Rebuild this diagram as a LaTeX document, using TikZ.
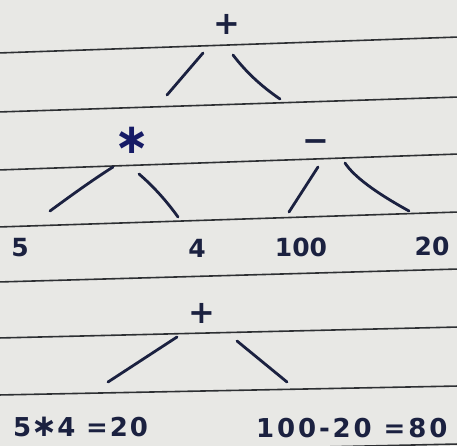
\documentclass[tikz,border=0pt]{standalone}
\usepackage{fontspec}
\setmainfont{DejaVu Sans}
\definecolor{paper}{HTML}{E8E8E5}
\definecolor{ink}{HTML}{1B2140}
\definecolor{rule}{HTML}{2E3033}
\begin{document}
\begin{tikzpicture}[x=1pt,y=-1pt,
  ruling/.style={draw=rule,line width=1.6pt},
  stroke/.style={draw=ink,line width=2.8pt,line cap=round},
  opnode/.style={text=ink,inner sep=0pt,font=\bfseries\fontsize{32}{32}\selectfont},
  leafnode/.style={text=ink,inner sep=0pt,font=\bfseries\fontsize{25}{25}\selectfont},
  eqnode/.style={text=ink,inner sep=0pt,anchor=west}]
\useasboundingbox (0,0) rectangle (457,446);
\clip (0,0) rectangle (457,446);
\fill[paper] (0,0) rectangle (457,446);
% ruled lines
\foreach \a/\b in {53/37,112/97,170/154,227/212,282/269,338/327,395/386,454/444}
  \draw[ruling] (-2,\a) -- (459,\b);
% operator and leaf nodes
\node[opnode] (top) at (227,24) {+};
\node[opnode,font=\bfseries\fontsize{42}{42}\selectfont,text=ink!80!blue] (mul) at (132,140) {∗};
\node[opnode] (sub) at (316,146) {−};
\node[leafnode] (l5) at (20,248) {5};
\node[leafnode] (l4) at (197,248) {4};
\node[leafnode] (l100) at (301,247) {100};
\node[leafnode] (l20) at (432,246) {20};
\node[opnode] (bot) at (202,313) {+};
\node[eqnode,font=\bfseries\fontsize{26}{26}\selectfont\addfontfeature{LetterSpace=7}] (eqa) at (13,427) {5\smash{\fontsize{31}{31}\selectfont∗}4 =20};
\node[eqnode,font=\bfseries\fontsize{26}{26}\selectfont\addfontfeature{LetterSpace=11}] (eqb) at (256,428) {100-20 =80};
% stroke end points
\coordinate (t1a) at (203,53); \coordinate (t1b) at (167,95);
\coordinate (t2a) at (233,55); \coordinate (t2b) at (280,99);
\coordinate (m1a) at (113,167); \coordinate (m1b) at (50,211);
\coordinate (m2a) at (139,174); \coordinate (m2b) at (178,217);
\coordinate (s1a) at (318,167); \coordinate (s1b) at (289,212);
\coordinate (s2a) at (345,163); \coordinate (s2b) at (409,211);
\coordinate (b1a) at (177,337); \coordinate (b1b) at (108,382);
\coordinate (b2a) at (237,341); \coordinate (b2b) at (287,382);
% connectors
\draw[stroke] (t1a) -- (t1b);
\draw[stroke] (t2a) .. controls (245.7,71.7) and (261.3,86.3) .. (t2b);
\draw[stroke] (m1a) .. controls (91,181) and (70,196.3) .. (m1b);
\draw[stroke] (m2a) .. controls (153,186) and (166,200.3) .. (m2b);
\draw[stroke] (s1a) -- (s1b);
\draw[stroke] (s2a) .. controls (353.7,176.3) and (375,192.3) .. (s2b);
\draw[stroke] (b1a) -- (b1b);
\draw[stroke] (b2a) -- (b2b);
\end{tikzpicture}
\end{document}
